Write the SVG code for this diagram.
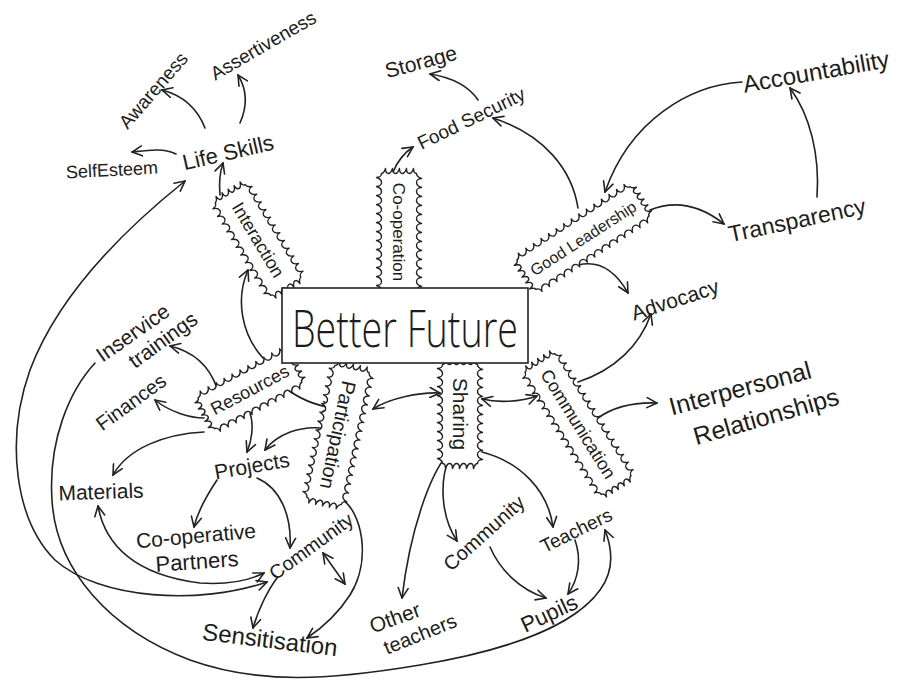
<svg xmlns="http://www.w3.org/2000/svg" width="898" height="686" viewBox="0 0 898 686">
<defs>
<style>
.ln{fill:none;stroke:#222;stroke-width:1.6;stroke-linecap:round;stroke-linejoin:round}
.sp{fill:#fff;stroke:#222;stroke-width:1.4;stroke-linejoin:round}
text{font-family:"Liberation Sans",Arial,sans-serif;fill:#1c1c1c;text-anchor:middle}
.big{font-family:"Open Sans","Liberation Sans",Arial,sans-serif;font-weight:300}
</style>
<marker id="ah" viewBox="0 0 12 12" refX="11" refY="6" markerWidth="12" markerHeight="12" markerUnits="userSpaceOnUse" orient="auto-start-reverse">
<path d="M1,1 L11,6 L1,11" fill="none" stroke="#222" stroke-width="1.6" stroke-linecap="round"/>
</marker>
</defs>
<rect width="898" height="686" fill="#fff"/>

<g id="connectors" class="ln">
<path d="M220,195 C219,185 220,172 223,163" marker-end="url(#ah)"/>
<path d="M176,154 C163,148 150,150 132,152" marker-end="url(#ah)"/>
<path d="M205,128 C198,110 185,96 162,90" marker-end="url(#ah)"/>
<path d="M240,123 C248,105 246,88 238,75" marker-end="url(#ah)"/>
<path d="M185,181 C130,225 60,290 30,370 C5,440 15,520 55,560 C100,600 200,605 267,582" marker-start="url(#ah)" marker-end="url(#ah)"/>
<path d="M95,363 C70,390 48,440 52,500 C56,570 110,630 190,660 C260,685 330,680 420,665 C510,650 575,625 600,590 C615,570 612,548 605,530" marker-end="url(#ah)"/>
<path d="M393,172 C398,160 404,153 413,147" marker-end="url(#ah)"/>
<path d="M478,100 C470,88 455,78 430,74" marker-end="url(#ah)"/>
<path d="M578,208 C572,170 545,135 493,118" marker-end="url(#ah)"/>
<path d="M742,82 C690,85 630,120 605,192" marker-end="url(#ah)"/>
<path d="M817,197 C820,155 810,115 790,88" marker-end="url(#ah)"/>
<path d="M650,210 C675,200 700,205 724,224" marker-end="url(#ah)"/>
<path d="M578,265 C598,260 615,270 628,293" marker-end="url(#ah)"/>
<path d="M578,382 C615,370 640,345 651,314" marker-end="url(#ah)"/>
<path d="M598,418 C612,408 630,402 657,403" marker-end="url(#ah)"/>
<path d="M482,399 C498,403 520,402 537,396" marker-start="url(#ah)" marker-end="url(#ah)"/>
<path d="M373,409 C390,398 420,392 440,393" marker-start="url(#ah)" marker-end="url(#ah)"/>
<path d="M284,387 C298,398 312,405 333,408" marker-end="url(#ah)"/>
<path d="M217,388 C210,368 195,352 170,346" marker-end="url(#ah)"/>
<path d="M204,418 C190,418 170,412 155,400" marker-end="url(#ah)"/>
<path d="M204,432 C165,434 128,448 113,475" marker-end="url(#ah)"/>
<path d="M250,413 C254,425 252,440 247,452" marker-end="url(#ah)"/>
<path d="M321,428 C300,426 277,434 265,450" marker-end="url(#ah)"/>
<path d="M217,480 C207,495 198,510 194,527" marker-end="url(#ah)"/>
<path d="M257,478 C280,488 292,515 290,548" marker-end="url(#ah)"/>
<path d="M98,506 C105,545 135,575 200,583 C230,585 250,580 264,573" marker-start="url(#ah)" marker-end="url(#ah)"/>
<path d="M277,578 C268,590 258,610 253,628" marker-end="url(#ah)"/>
<path d="M323,553 L345,584" marker-start="url(#ah)" marker-end="url(#ah)"/>
<path d="M340,498 C362,510 372,560 350,595 C337,615 322,628 307,638" marker-end="url(#ah)"/>
<path d="M263,358 C242,335 235,300 248,270" marker-end="url(#ah)"/>
<path d="M447,455 C430,475 410,530 402,598" marker-end="url(#ah)"/>
<path d="M449,458 C440,480 440,515 457,541" marker-end="url(#ah)"/>
<path d="M482,452 C520,462 548,490 553,527" marker-end="url(#ah)"/>
<path d="M490,547 C500,570 520,590 546,598" marker-end="url(#ah)"/>
<path d="M575,540 C582,560 578,580 568,594" marker-end="url(#ah)"/>
</g>

<g id="interaction" transform="translate(258,240) rotate(59)">
<path class="sp" d="M-54,-17.5 c 2,0 4,-2 5,-5 0,3 2,5 4,5 2,0 4,-2 5,-5 0,3 2,5 4,5 2,0 4,-2 5,-5 0,3 2,5 4,5 2,0 4,-2 5,-5 0,3 2,5 4,5 2,0 4,-2 5,-5 0,3 2,5 4,5 2,0 4,-2 5,-5 0,3 2,5 4,5 2,0 4,-2 5,-5 0,3 2,5 4,5 2,0 4,-2 5,-5 0,3 2,5 4,5 2,0 4,-2 5,-5 0,3 2,5 4,5 2,0 4,-2 5,-5 0,3 2,5 4,5 2,0 4,-2 5,-5 0,3 2,5 4,5 2,0 4,-2 5,-5 0,3 2,5 4,5 c 0,2 2,3 5,4 -3,0 -5,1 -5,3 0,2 2,3 5,4 -3,0 -5,1 -5,3 0,2 2,3 5,4 -3,0 -5,1 -5,3 0,2 2,3 5,4 -3,0 -5,1 -5,3 0,2 2,3 5,4 -3,0 -5,1 -5,3 c -2,0 -4,2 -5,5 0,-3 -2,-5 -4,-5 -2,0 -4,2 -5,5 0,-3 -2,-5 -4,-5 -2,0 -4,2 -5,5 0,-3 -2,-5 -4,-5 -2,0 -4,2 -5,5 0,-3 -2,-5 -4,-5 -2,0 -4,2 -5,5 0,-3 -2,-5 -4,-5 -2,0 -4,2 -5,5 0,-3 -2,-5 -4,-5 -2,0 -4,2 -5,5 0,-3 -2,-5 -4,-5 -2,0 -4,2 -5,5 0,-3 -2,-5 -4,-5 -2,0 -4,2 -5,5 0,-3 -2,-5 -4,-5 -2,0 -4,2 -5,5 0,-3 -2,-5 -4,-5 -2,0 -4,2 -5,5 0,-3 -2,-5 -4,-5 -2,0 -4,2 -5,5 0,-3 -2,-5 -4,-5 c 0,-2 -2,-3 -5,-4 3,0 5,-1 5,-3 0,-2 -2,-3 -5,-4 3,0 5,-1 5,-3 0,-2 -2,-3 -5,-4 3,0 5,-1 5,-3 0,-2 -2,-3 -5,-4 3,0 5,-1 5,-3 0,-2 -2,-3 -5,-4 3,0 5,-1 5,-3 Z"/>
<text x="0" y="6" font-size="18">Interaction</text>
</g>

<g id="cooperation" transform="translate(399,232) rotate(90)">
<path class="sp" d="M-58.5,-17.5 c 2,0 4,-2 5,-5 0,3 2,5 4,5 2,0 4,-2 5,-5 0,3 2,5 4,5 2,0 4,-2 5,-5 0,3 2,5 4,5 2,0 4,-2 5,-5 0,3 2,5 4,5 2,0 4,-2 5,-5 0,3 2,5 4,5 2,0 4,-2 5,-5 0,3 2,5 4,5 2,0 4,-2 5,-5 0,3 2,5 4,5 2,0 4,-2 5,-5 0,3 2,5 4,5 2,0 4,-2 5,-5 0,3 2,5 4,5 2,0 4,-2 5,-5 0,3 2,5 4,5 2,0 4,-2 5,-5 0,3 2,5 4,5 2,0 4,-2 5,-5 0,3 2,5 4,5 2,0 4,-2 5,-5 0,3 2,5 4,5 c 0,2 2,3 5,4 -3,0 -5,1 -5,3 0,2 2,3 5,4 -3,0 -5,1 -5,3 0,2 2,3 5,4 -3,0 -5,1 -5,3 0,2 2,3 5,4 -3,0 -5,1 -5,3 0,2 2,3 5,4 -3,0 -5,1 -5,3 c -2,0 -4,2 -5,5 0,-3 -2,-5 -4,-5 -2,0 -4,2 -5,5 0,-3 -2,-5 -4,-5 -2,0 -4,2 -5,5 0,-3 -2,-5 -4,-5 -2,0 -4,2 -5,5 0,-3 -2,-5 -4,-5 -2,0 -4,2 -5,5 0,-3 -2,-5 -4,-5 -2,0 -4,2 -5,5 0,-3 -2,-5 -4,-5 -2,0 -4,2 -5,5 0,-3 -2,-5 -4,-5 -2,0 -4,2 -5,5 0,-3 -2,-5 -4,-5 -2,0 -4,2 -5,5 0,-3 -2,-5 -4,-5 -2,0 -4,2 -5,5 0,-3 -2,-5 -4,-5 -2,0 -4,2 -5,5 0,-3 -2,-5 -4,-5 -2,0 -4,2 -5,5 0,-3 -2,-5 -4,-5 -2,0 -4,2 -5,5 0,-3 -2,-5 -4,-5 c 0,-2 -2,-3 -5,-4 3,0 5,-1 5,-3 0,-2 -2,-3 -5,-4 3,0 5,-1 5,-3 0,-2 -2,-3 -5,-4 3,0 5,-1 5,-3 0,-2 -2,-3 -5,-4 3,0 5,-1 5,-3 0,-2 -2,-3 -5,-4 3,0 5,-1 5,-3 Z"/>
<text x="0" y="6" font-size="17">Co-operation</text>
</g>

<g id="goodleadership" transform="translate(583,238) rotate(-33)">
<path class="sp" d="M-67.5,-17.5 c 2,0 4,-2 5,-5 0,3 2,5 4,5 2,0 4,-2 5,-5 0,3 2,5 4,5 2,0 4,-2 5,-5 0,3 2,5 4,5 2,0 4,-2 5,-5 0,3 2,5 4,5 2,0 4,-2 5,-5 0,3 2,5 4,5 2,0 4,-2 5,-5 0,3 2,5 4,5 2,0 4,-2 5,-5 0,3 2,5 4,5 2,0 4,-2 5,-5 0,3 2,5 4,5 2,0 4,-2 5,-5 0,3 2,5 4,5 2,0 4,-2 5,-5 0,3 2,5 4,5 2,0 4,-2 5,-5 0,3 2,5 4,5 2,0 4,-2 5,-5 0,3 2,5 4,5 2,0 4,-2 5,-5 0,3 2,5 4,5 2,0 4,-2 5,-5 0,3 2,5 4,5 2,0 4,-2 5,-5 0,3 2,5 4,5 c 0,2 2,3 5,4 -3,0 -5,1 -5,3 0,2 2,3 5,4 -3,0 -5,1 -5,3 0,2 2,3 5,4 -3,0 -5,1 -5,3 0,2 2,3 5,4 -3,0 -5,1 -5,3 0,2 2,3 5,4 -3,0 -5,1 -5,3 c -2,0 -4,2 -5,5 0,-3 -2,-5 -4,-5 -2,0 -4,2 -5,5 0,-3 -2,-5 -4,-5 -2,0 -4,2 -5,5 0,-3 -2,-5 -4,-5 -2,0 -4,2 -5,5 0,-3 -2,-5 -4,-5 -2,0 -4,2 -5,5 0,-3 -2,-5 -4,-5 -2,0 -4,2 -5,5 0,-3 -2,-5 -4,-5 -2,0 -4,2 -5,5 0,-3 -2,-5 -4,-5 -2,0 -4,2 -5,5 0,-3 -2,-5 -4,-5 -2,0 -4,2 -5,5 0,-3 -2,-5 -4,-5 -2,0 -4,2 -5,5 0,-3 -2,-5 -4,-5 -2,0 -4,2 -5,5 0,-3 -2,-5 -4,-5 -2,0 -4,2 -5,5 0,-3 -2,-5 -4,-5 -2,0 -4,2 -5,5 0,-3 -2,-5 -4,-5 -2,0 -4,2 -5,5 0,-3 -2,-5 -4,-5 -2,0 -4,2 -5,5 0,-3 -2,-5 -4,-5 c 0,-2 -2,-3 -5,-4 3,0 5,-1 5,-3 0,-2 -2,-3 -5,-4 3,0 5,-1 5,-3 0,-2 -2,-3 -5,-4 3,0 5,-1 5,-3 0,-2 -2,-3 -5,-4 3,0 5,-1 5,-3 0,-2 -2,-3 -5,-4 3,0 5,-1 5,-3 Z"/>
<text x="0" y="6" font-size="16">Good Leadership</text>
</g>

<g id="resources" transform="translate(250,390) rotate(-28)">
<path class="sp" d="M-49.5,-17.5 c 2,0 4,-2 5,-5 0,3 2,5 4,5 2,0 4,-2 5,-5 0,3 2,5 4,5 2,0 4,-2 5,-5 0,3 2,5 4,5 2,0 4,-2 5,-5 0,3 2,5 4,5 2,0 4,-2 5,-5 0,3 2,5 4,5 2,0 4,-2 5,-5 0,3 2,5 4,5 2,0 4,-2 5,-5 0,3 2,5 4,5 2,0 4,-2 5,-5 0,3 2,5 4,5 2,0 4,-2 5,-5 0,3 2,5 4,5 2,0 4,-2 5,-5 0,3 2,5 4,5 2,0 4,-2 5,-5 0,3 2,5 4,5 c 0,2 2,3 5,4 -3,0 -5,1 -5,3 0,2 2,3 5,4 -3,0 -5,1 -5,3 0,2 2,3 5,4 -3,0 -5,1 -5,3 0,2 2,3 5,4 -3,0 -5,1 -5,3 0,2 2,3 5,4 -3,0 -5,1 -5,3 c -2,0 -4,2 -5,5 0,-3 -2,-5 -4,-5 -2,0 -4,2 -5,5 0,-3 -2,-5 -4,-5 -2,0 -4,2 -5,5 0,-3 -2,-5 -4,-5 -2,0 -4,2 -5,5 0,-3 -2,-5 -4,-5 -2,0 -4,2 -5,5 0,-3 -2,-5 -4,-5 -2,0 -4,2 -5,5 0,-3 -2,-5 -4,-5 -2,0 -4,2 -5,5 0,-3 -2,-5 -4,-5 -2,0 -4,2 -5,5 0,-3 -2,-5 -4,-5 -2,0 -4,2 -5,5 0,-3 -2,-5 -4,-5 -2,0 -4,2 -5,5 0,-3 -2,-5 -4,-5 -2,0 -4,2 -5,5 0,-3 -2,-5 -4,-5 c 0,-2 -2,-3 -5,-4 3,0 5,-1 5,-3 0,-2 -2,-3 -5,-4 3,0 5,-1 5,-3 0,-2 -2,-3 -5,-4 3,0 5,-1 5,-3 0,-2 -2,-3 -5,-4 3,0 5,-1 5,-3 0,-2 -2,-3 -5,-4 3,0 5,-1 5,-3 Z"/>
<text x="0" y="6" font-size="18">Resources</text>
</g>

<g id="participation" transform="translate(338,435) rotate(102)">
<path class="sp" d="M-67.5,-17.5 c 2,0 4,-2 5,-5 0,3 2,5 4,5 2,0 4,-2 5,-5 0,3 2,5 4,5 2,0 4,-2 5,-5 0,3 2,5 4,5 2,0 4,-2 5,-5 0,3 2,5 4,5 2,0 4,-2 5,-5 0,3 2,5 4,5 2,0 4,-2 5,-5 0,3 2,5 4,5 2,0 4,-2 5,-5 0,3 2,5 4,5 2,0 4,-2 5,-5 0,3 2,5 4,5 2,0 4,-2 5,-5 0,3 2,5 4,5 2,0 4,-2 5,-5 0,3 2,5 4,5 2,0 4,-2 5,-5 0,3 2,5 4,5 2,0 4,-2 5,-5 0,3 2,5 4,5 2,0 4,-2 5,-5 0,3 2,5 4,5 2,0 4,-2 5,-5 0,3 2,5 4,5 2,0 4,-2 5,-5 0,3 2,5 4,5 c 0,2 2,3 5,4 -3,0 -5,1 -5,3 0,2 2,3 5,4 -3,0 -5,1 -5,3 0,2 2,3 5,4 -3,0 -5,1 -5,3 0,2 2,3 5,4 -3,0 -5,1 -5,3 0,2 2,3 5,4 -3,0 -5,1 -5,3 c -2,0 -4,2 -5,5 0,-3 -2,-5 -4,-5 -2,0 -4,2 -5,5 0,-3 -2,-5 -4,-5 -2,0 -4,2 -5,5 0,-3 -2,-5 -4,-5 -2,0 -4,2 -5,5 0,-3 -2,-5 -4,-5 -2,0 -4,2 -5,5 0,-3 -2,-5 -4,-5 -2,0 -4,2 -5,5 0,-3 -2,-5 -4,-5 -2,0 -4,2 -5,5 0,-3 -2,-5 -4,-5 -2,0 -4,2 -5,5 0,-3 -2,-5 -4,-5 -2,0 -4,2 -5,5 0,-3 -2,-5 -4,-5 -2,0 -4,2 -5,5 0,-3 -2,-5 -4,-5 -2,0 -4,2 -5,5 0,-3 -2,-5 -4,-5 -2,0 -4,2 -5,5 0,-3 -2,-5 -4,-5 -2,0 -4,2 -5,5 0,-3 -2,-5 -4,-5 -2,0 -4,2 -5,5 0,-3 -2,-5 -4,-5 -2,0 -4,2 -5,5 0,-3 -2,-5 -4,-5 c 0,-2 -2,-3 -5,-4 3,0 5,-1 5,-3 0,-2 -2,-3 -5,-4 3,0 5,-1 5,-3 0,-2 -2,-3 -5,-4 3,0 5,-1 5,-3 0,-2 -2,-3 -5,-4 3,0 5,-1 5,-3 0,-2 -2,-3 -5,-4 3,0 5,-1 5,-3 Z"/>
<text x="0" y="7" font-size="20">Participation</text>
</g>

<g id="sharing" transform="translate(460,414) rotate(90)">
<path class="sp" d="M-49.5,-17.5 c 2,0 4,-2 5,-5 0,3 2,5 4,5 2,0 4,-2 5,-5 0,3 2,5 4,5 2,0 4,-2 5,-5 0,3 2,5 4,5 2,0 4,-2 5,-5 0,3 2,5 4,5 2,0 4,-2 5,-5 0,3 2,5 4,5 2,0 4,-2 5,-5 0,3 2,5 4,5 2,0 4,-2 5,-5 0,3 2,5 4,5 2,0 4,-2 5,-5 0,3 2,5 4,5 2,0 4,-2 5,-5 0,3 2,5 4,5 2,0 4,-2 5,-5 0,3 2,5 4,5 2,0 4,-2 5,-5 0,3 2,5 4,5 c 0,2 2,3 5,4 -3,0 -5,1 -5,3 0,2 2,3 5,4 -3,0 -5,1 -5,3 0,2 2,3 5,4 -3,0 -5,1 -5,3 0,2 2,3 5,4 -3,0 -5,1 -5,3 0,2 2,3 5,4 -3,0 -5,1 -5,3 c -2,0 -4,2 -5,5 0,-3 -2,-5 -4,-5 -2,0 -4,2 -5,5 0,-3 -2,-5 -4,-5 -2,0 -4,2 -5,5 0,-3 -2,-5 -4,-5 -2,0 -4,2 -5,5 0,-3 -2,-5 -4,-5 -2,0 -4,2 -5,5 0,-3 -2,-5 -4,-5 -2,0 -4,2 -5,5 0,-3 -2,-5 -4,-5 -2,0 -4,2 -5,5 0,-3 -2,-5 -4,-5 -2,0 -4,2 -5,5 0,-3 -2,-5 -4,-5 -2,0 -4,2 -5,5 0,-3 -2,-5 -4,-5 -2,0 -4,2 -5,5 0,-3 -2,-5 -4,-5 -2,0 -4,2 -5,5 0,-3 -2,-5 -4,-5 c 0,-2 -2,-3 -5,-4 3,0 5,-1 5,-3 0,-2 -2,-3 -5,-4 3,0 5,-1 5,-3 0,-2 -2,-3 -5,-4 3,0 5,-1 5,-3 0,-2 -2,-3 -5,-4 3,0 5,-1 5,-3 0,-2 -2,-3 -5,-4 3,0 5,-1 5,-3 Z"/>
<text x="0" y="7" font-size="21">Sharing</text>
</g>

<g id="communication" transform="translate(578,424) rotate(58)">
<path class="sp" d="M-72,-17.5 c 2,0 4,-2 5,-5 0,3 2,5 4,5 2,0 4,-2 5,-5 0,3 2,5 4,5 2,0 4,-2 5,-5 0,3 2,5 4,5 2,0 4,-2 5,-5 0,3 2,5 4,5 2,0 4,-2 5,-5 0,3 2,5 4,5 2,0 4,-2 5,-5 0,3 2,5 4,5 2,0 4,-2 5,-5 0,3 2,5 4,5 2,0 4,-2 5,-5 0,3 2,5 4,5 2,0 4,-2 5,-5 0,3 2,5 4,5 2,0 4,-2 5,-5 0,3 2,5 4,5 2,0 4,-2 5,-5 0,3 2,5 4,5 2,0 4,-2 5,-5 0,3 2,5 4,5 2,0 4,-2 5,-5 0,3 2,5 4,5 2,0 4,-2 5,-5 0,3 2,5 4,5 2,0 4,-2 5,-5 0,3 2,5 4,5 2,0 4,-2 5,-5 0,3 2,5 4,5 c 0,2 2,3 5,4 -3,0 -5,1 -5,3 0,2 2,3 5,4 -3,0 -5,1 -5,3 0,2 2,3 5,4 -3,0 -5,1 -5,3 0,2 2,3 5,4 -3,0 -5,1 -5,3 0,2 2,3 5,4 -3,0 -5,1 -5,3 c -2,0 -4,2 -5,5 0,-3 -2,-5 -4,-5 -2,0 -4,2 -5,5 0,-3 -2,-5 -4,-5 -2,0 -4,2 -5,5 0,-3 -2,-5 -4,-5 -2,0 -4,2 -5,5 0,-3 -2,-5 -4,-5 -2,0 -4,2 -5,5 0,-3 -2,-5 -4,-5 -2,0 -4,2 -5,5 0,-3 -2,-5 -4,-5 -2,0 -4,2 -5,5 0,-3 -2,-5 -4,-5 -2,0 -4,2 -5,5 0,-3 -2,-5 -4,-5 -2,0 -4,2 -5,5 0,-3 -2,-5 -4,-5 -2,0 -4,2 -5,5 0,-3 -2,-5 -4,-5 -2,0 -4,2 -5,5 0,-3 -2,-5 -4,-5 -2,0 -4,2 -5,5 0,-3 -2,-5 -4,-5 -2,0 -4,2 -5,5 0,-3 -2,-5 -4,-5 -2,0 -4,2 -5,5 0,-3 -2,-5 -4,-5 -2,0 -4,2 -5,5 0,-3 -2,-5 -4,-5 -2,0 -4,2 -5,5 0,-3 -2,-5 -4,-5 c 0,-2 -2,-3 -5,-4 3,0 5,-1 5,-3 0,-2 -2,-3 -5,-4 3,0 5,-1 5,-3 0,-2 -2,-3 -5,-4 3,0 5,-1 5,-3 0,-2 -2,-3 -5,-4 3,0 5,-1 5,-3 0,-2 -2,-3 -5,-4 3,0 5,-1 5,-3 Z"/>
<text x="0" y="6" font-size="18">Communication</text>
</g>

<g id="better-future">
<rect x="282" y="288" width="246" height="75" fill="#fff" stroke="#222" stroke-width="1.6"/>
<text class="big" x="405" y="347" font-size="52" textLength="226" lengthAdjust="spacingAndGlyphs">Better Future</text>
</g>

<g id="life-skills"><text transform="translate(228,152) rotate(-13)" y="8" font-size="22">Life Skills</text></g>
<g id="self-esteem"><text transform="translate(112,170) rotate(-3)" y="6" font-size="18">SelfEsteem</text></g>
<g id="awareness"><text transform="translate(153,90) rotate(-49)" y="7" font-size="19">Awareness</text></g>
<g id="assertiveness"><text transform="translate(263,45) rotate(-30)" y="7" font-size="19">Assertiveness</text></g>
<g id="storage"><text transform="translate(421,62) rotate(-15)" y="7" font-size="21">Storage</text></g>
<g id="food-security"><text transform="translate(471,118) rotate(-26)" y="7" font-size="19">Food Security</text></g>
<g id="accountability"><text transform="translate(816,72) rotate(-10)" y="8" font-size="24">Accountability</text></g>
<g id="transparency"><text transform="translate(797,220) rotate(-12)" y="8" font-size="23">Transparency</text></g>
<g id="advocacy"><text transform="translate(675,300) rotate(-18)" y="7" font-size="21">Advocacy</text></g>
<g id="interpersonal-relationships">
<text transform="translate(740,388) rotate(-15)" y="9" font-size="25">Interpersonal</text>
<text transform="translate(766,416) rotate(-16)" y="9" font-size="25">Relationships</text>
</g>
<g id="inservice-trainings">
<text transform="translate(133,333) rotate(-35)" y="7" font-size="21">Inservice</text>
<text transform="translate(163,340) rotate(-36)" y="7" font-size="21">trainings</text>
</g>
<g id="finances"><text transform="translate(131,402) rotate(-36)" y="7" font-size="20">Finances</text></g>
<g id="materials"><text transform="translate(101,492) rotate(-2)" y="7" font-size="21">Materials</text></g>
<g id="projects"><text transform="translate(252,466) rotate(-10)" y="7" font-size="21">Projects</text></g>
<g id="cooperative-partners">
<text transform="translate(196,536) rotate(-5)" y="7" font-size="21">Co-operative</text>
<text transform="translate(197,562) rotate(-4)" y="7" font-size="22">Partners</text>
</g>
<g id="community-left"><text transform="translate(311,546) rotate(-36)" y="7" font-size="19.5">Community</text></g>
<g id="sensitisation"><text transform="translate(270,640) rotate(7)" y="8" font-size="24">Sensitisation</text></g>
<g id="other-teachers">
<text transform="translate(395,618) rotate(-20)" y="7" font-size="21">Other</text>
<text transform="translate(420,634) rotate(-22)" y="7" font-size="20">teachers</text>
</g>
<g id="community-mid"><text transform="translate(484,533) rotate(-42)" y="7" font-size="20">Community</text></g>
<g id="teachers"><text transform="translate(576,530) rotate(-26)" y="7" font-size="19">Teachers</text></g>
<g id="pupils"><text transform="translate(549,613) rotate(-25)" y="8" font-size="22">Pupils</text></g>
</svg>
